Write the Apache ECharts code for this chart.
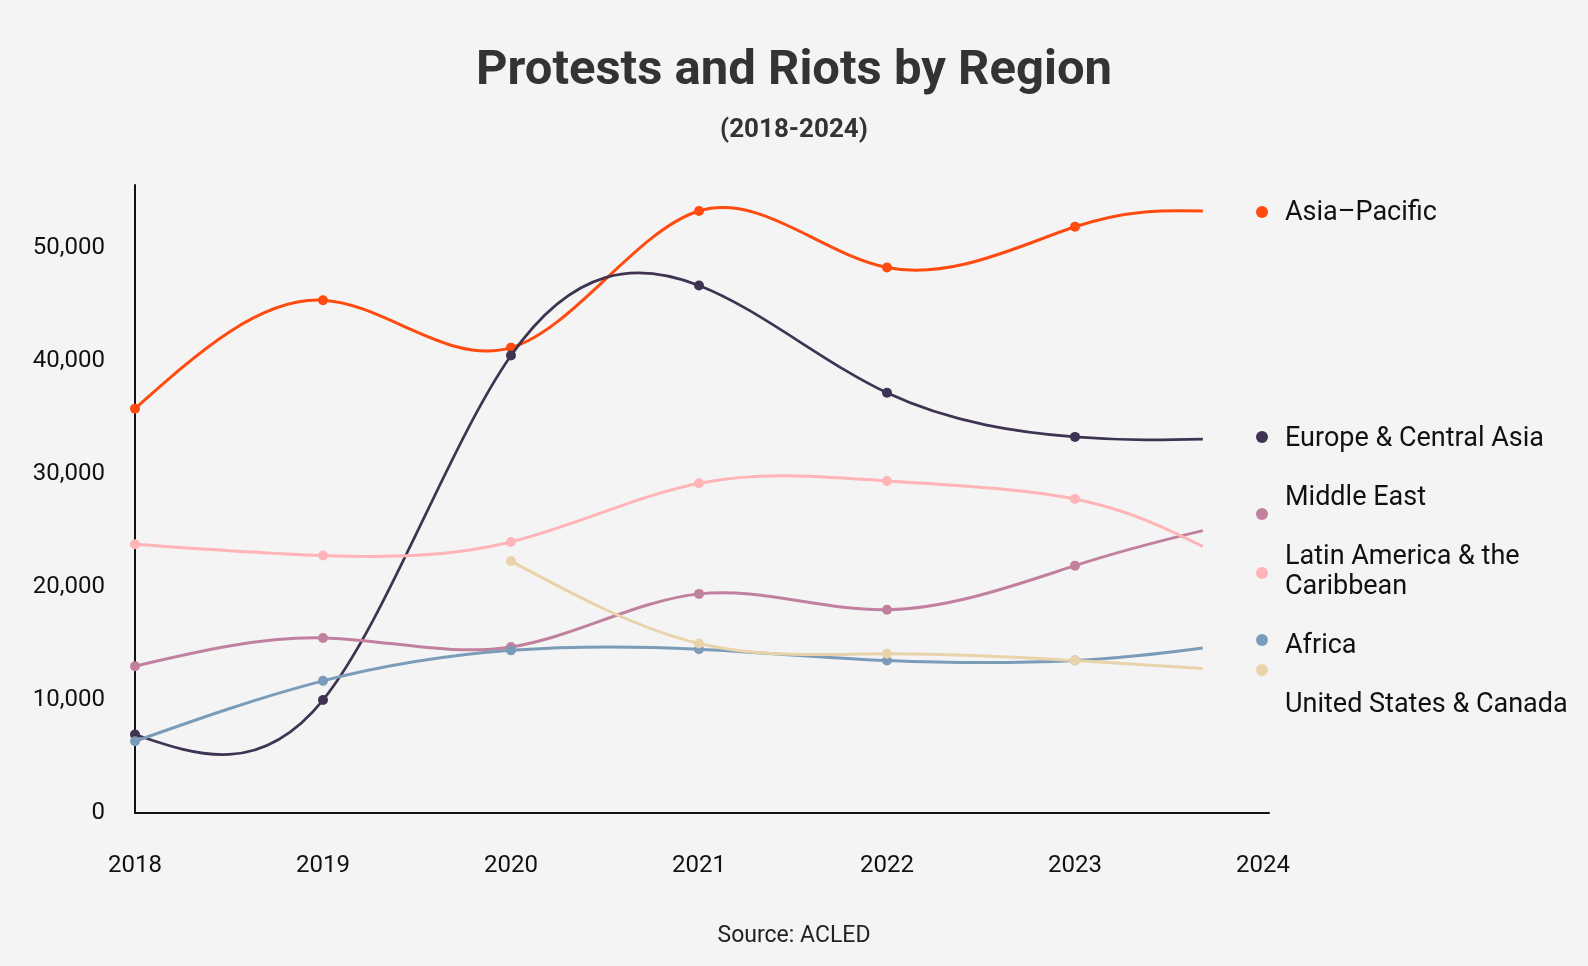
<!DOCTYPE html>
<html>
<head>
<meta charset="utf-8">
<script src="https://cdn.jsdelivr.net/npm/echarts@6/dist/echarts.min.js"></script>
<style>
html,body{margin:0;padding:0;background:#f4f4f4;}
#c{width:1588px;height:966px;}
</style>
</head>
<body>
<div id="c"></div>
<script>
// x positions (years); last value is the partial 2024 point
const xYears = [2018, 2019, 2020, 2021, 2022, 2023, 2023.68];
const tickYears = [2018, 2019, 2020, 2021, 2022, 2023, 2024];
const regions = ['Asia–Pacific', 'Europe & Central Asia', 'Middle East', 'Latin America & the Caribbean', 'Africa', 'United States & Canada'];
const asiaPacific   = [35800, 45400, 41200, 53300, 48300, 51900, 53300];
const europeCentral = [6950, 10000, 40500, 46700, 37200, 33300, 33100];
const middleEast    = [13000, 15500, 14700, 19400, 18000, 21900, 25000];
const latinAmerica  = [23800, 22800, 24000, 29200, 29400, 27800, 23600];
const africa        = [6350, 11700, 14400, 14500, 13500, 13500, 14600];
const usCanada      = [null, null, 22300, 15000, 14100, 13500, 12800];
const colors = ['#ff4b0f', '#3f3352', '#c2809f', '#ffb5b8', '#7a9cb8', '#e9d3aa'];
const seriesValues = [asiaPacific, europeCentral, middleEast, latinAmerica, africa, usCanada];

const FONT = 'Roboto, "Noto Sans", sans-serif';

// natural cubic spline control points (same scheme as d3.curveNatural)
function controlPoints(x) {
  const n = x.length - 1;
  const a = new Array(n), b = new Array(n), r = new Array(n);
  a[0] = 0; b[0] = 2; r[0] = x[0] + 2 * x[1];
  for (let i = 1; i < n - 1; ++i) { a[i] = 1; b[i] = 4; r[i] = 4 * x[i] + 2 * x[i + 1]; }
  a[n - 1] = 2; b[n - 1] = 7; r[n - 1] = 8 * x[n - 1] + x[n];
  for (let i = 1; i < n; ++i) { const m = a[i] / b[i - 1]; b[i] -= m; r[i] -= m * r[i - 1]; }
  a[n - 1] = r[n - 1] / b[n - 1];
  for (let i = n - 2; i >= 0; --i) a[i] = (r[i] - a[i + 1]) / b[i];
  b[n - 1] = (x[n] + a[n - 1]) / 2;
  for (let i = 0; i < n - 1; ++i) b[i] = 2 * x[i + 1] - a[i + 1];
  return [a, b];
}
function naturalPath(pts) {
  let d = 'M' + pts[0][0] + ' ' + pts[0][1];
  if (pts.length === 2) return d + 'L' + pts[1][0] + ' ' + pts[1][1];
  const px = controlPoints(pts.map(p => p[0]));
  const py = controlPoints(pts.map(p => p[1]));
  for (let i = 0; i < pts.length - 1; i++) {
    d += 'C' + px[0][i] + ' ' + py[0][i] + ' ' + px[1][i] + ' ' + py[1][i] + ' ' + pts[i + 1][0] + ' ' + pts[i + 1][1];
  }
  return d;
}

function buildData(vals) {
  const out = [];
  vals.forEach((v, i) => { if (v !== null) out.push([xYears[i], v]); });
  return out;
}

const series = regions.map((name, si) => {
  const data = buildData(seriesValues[si]);
  const color = colors[si];
  return {
    name: name,
    type: 'custom',
    clip: false,
    data: data,
    z: 2 + si,
    renderItem: function (params, api) {
      const i = params.dataIndex;
      const children = [];
      if (i === 0) {
        const pts = data.map(p => api.coord(p));
        children.push({
          type: 'path', z2: 0,
          shape: { pathData: naturalPath(pts) },
          style: { fill: 'none', stroke: color, lineWidth: si === 1 ? 2.7 : 3 }
        });
      }
      if (i < data.length - 1) {
        const c = api.coord([api.value(0), api.value(1)]);
        children.push({ type: 'circle', z2: 1, shape: { cx: c[0], cy: c[1], r: 5 }, style: { fill: color } });
      }
      return { type: 'group', children: children };
    }
  };
});

// legend layout (label positions beside the plot)
const legendMarkerY = [212, 437, 514, 573, 640, 670];
const legendTextY   = [214, 440, 499, 573, 647, 706];
const legendLabels  = ['Asia–Pacific', 'Europe & Central Asia', 'Middle East', 'Latin America & the\nCaribbean', 'Africa', 'United States & Canada'];
const graphics = [];
legendLabels.forEach((t, i) => {
  graphics.push({ type: 'circle', left: 1256, top: legendMarkerY[i] - 6, shape: { r: 6 }, style: { fill: colors[i] } });
  graphics.push({ type: 'text', left: 1285, top: legendTextY[i] - (t.indexOf('\n') >= 0 ? 31 : 16),
    style: { text: t, fill: '#111', font: '27px ' + FONT, lineHeight: 30 } });
});

const chart = echarts.init(document.getElementById('c'));
chart.setOption({
  backgroundColor: '#f4f4f4',
  animation: false,
  title: [
    { text: 'Protests and Riots by Region', left: 'center', top: 42,
      textStyle: { fontFamily: FONT, fontWeight: 'bold', fontSize: 49, color: '#333' } },
    { text: '(2018-2024)', left: 'center', top: 112,
      textStyle: { fontFamily: FONT, fontWeight: 'bold', fontSize: 26, color: '#333' } },
    { text: 'Source: ACLED', left: 'center', top: 920,
      textStyle: { fontFamily: FONT, fontWeight: 'normal', fontSize: 23, color: '#222' } }
  ],
  grid: { left: 135, right: 319, top: 185, bottom: 153, containLabel: false },
  xAxis: {
    type: 'value', min: tickYears[0], max: 2024.032, interval: 1,
    axisLine: { lineStyle: { color: '#111', width: 2 } },
    axisTick: { show: false },
    splitLine: { show: false },
    axisLabel: { margin: 41, fontFamily: FONT, fontSize: 24, color: '#111', showMaxLabel: false,
      formatter: v => (tickYears.indexOf(v) >= 0 ? String(v) : '') }
  },
  yAxis: {
    type: 'value', min: 0, max: 55600, interval: 10000,
    axisLine: { show: true, lineStyle: { color: '#111', width: 2 } },
    axisTick: { show: false },
    splitLine: { show: false },
    axisLabel: { margin: 30, fontFamily: FONT, fontSize: 24, color: '#111', showMaxLabel: false,
      formatter: v => v.toLocaleString('en-US') }
  },
  graphic: graphics,
  series: series
});
</script>
</body>
</html>
